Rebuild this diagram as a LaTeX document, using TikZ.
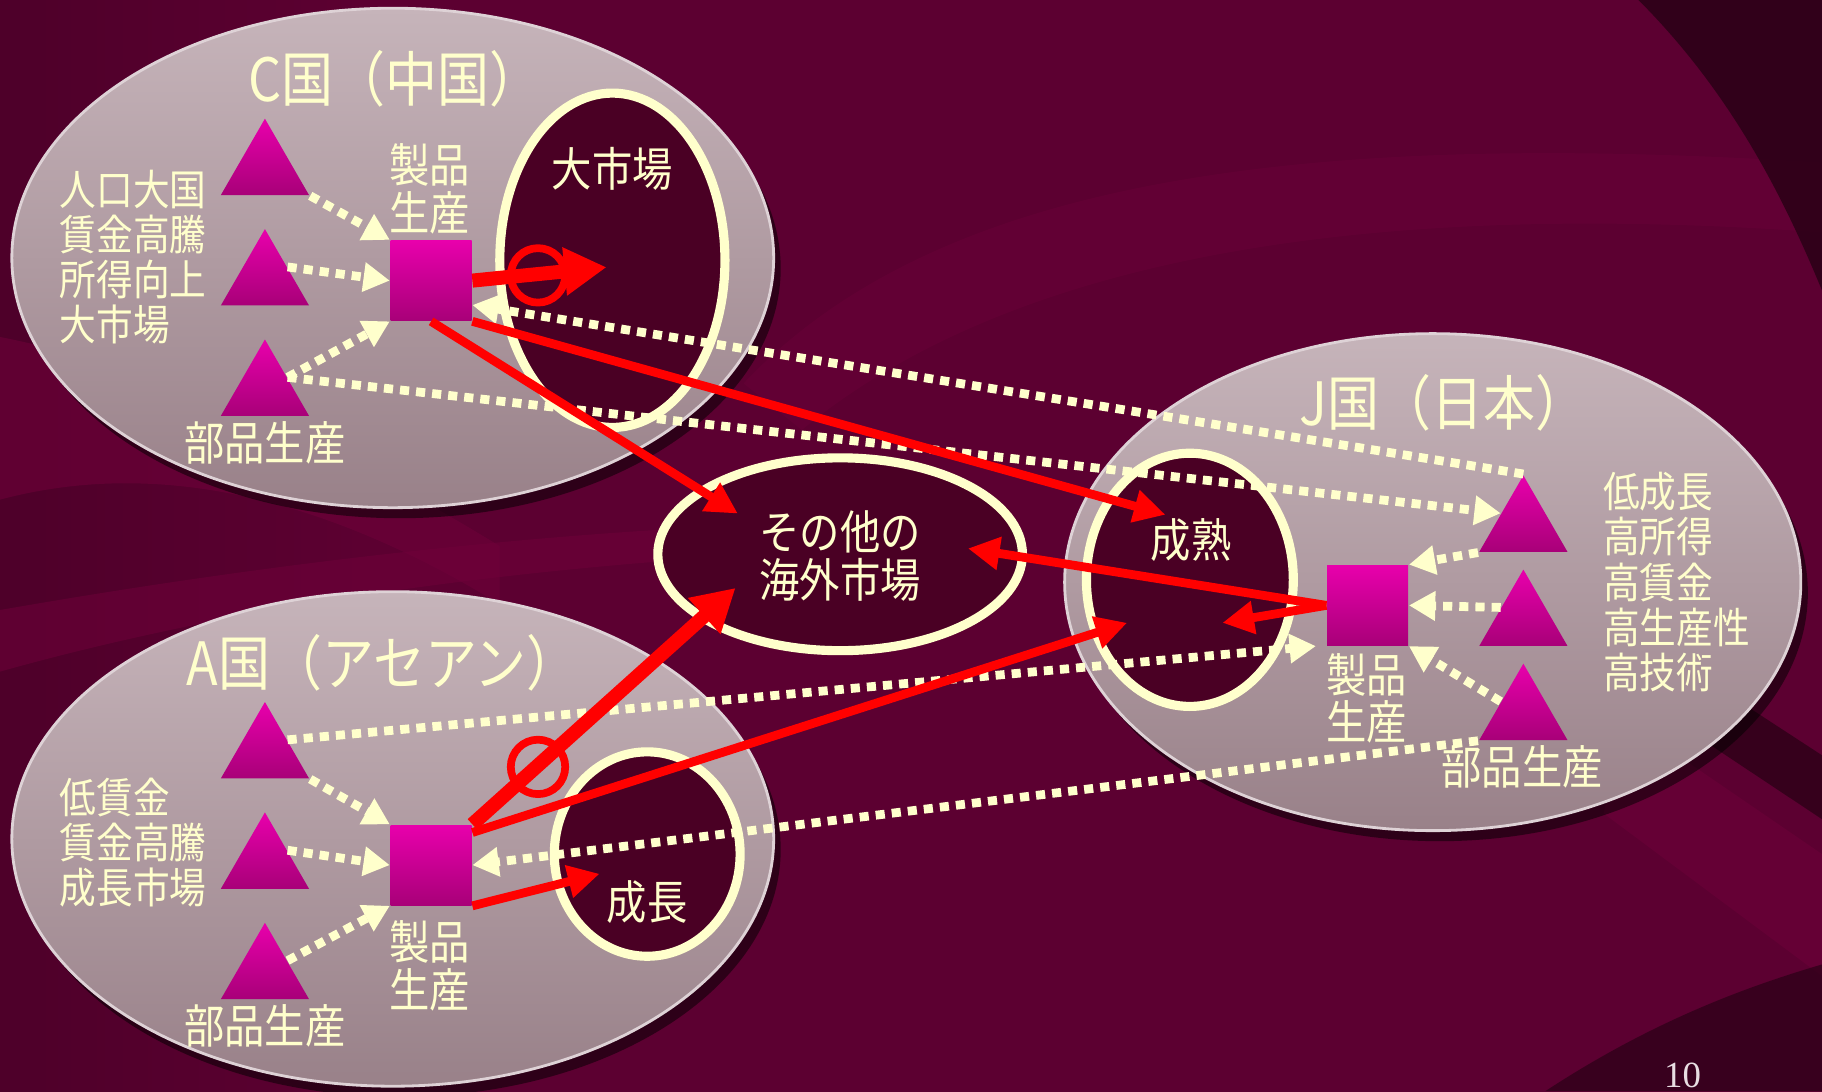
\documentclass[tikz,border=0pt]{standalone}
\usepackage{fontspec}
\setmainfont{Noto Sans CJK JP}[FakeStretch=0.87]
\newfontfamily\numfont{Liberation Serif}
\usetikzlibrary{arrows.meta,shapes.geometric,shadows,calc}
\definecolor{bgdark}{HTML}{2A0016}
\definecolor{bgmid}{HTML}{5C0031}
\definecolor{bglight}{HTML}{70003A}
\definecolor{cream}{HTML}{FFFFCC}
\definecolor{innerfill}{HTML}{4A0024}
\definecolor{ctop}{HTML}{C6B4BA}
\definecolor{cbot}{HTML}{998189}
\definecolor{rimc}{HTML}{DED2D6}
\definecolor{mtop}{HTML}{E800AC}
\definecolor{mbot}{HTML}{A80078}
\definecolor{redc}{HTML}{FF0000}
\definecolor{numc}{HTML}{E8DDE2}
\pgfdeclarehorizontalshading{bgsh}{100bp}{color(0bp)=(bgdark); color(35bp)=(bgmid); color(75bp)=(bgmid); color(100bp)=(bgmid!75!black)}
\tikzset{
  country/.style={ellipse, draw=rimc, line width=0.8pt, top color=ctop, bottom color=cbot, inner sep=0pt,
    drop shadow={shadow xshift=2pt, shadow yshift=-3pt, opacity=0.5, fill=black}},
  market/.style={ellipse, draw=cream, line width=2.6pt, fill=innerfill, inner sep=0pt},
  tri/.style={regular polygon, regular polygon sides=3, minimum size=29pt, inner sep=0pt, top color=mtop, bottom color=mbot},
  sq/.style={rectangle, minimum width=23.1pt, minimum height=22.8pt, inner sep=0pt, top color=mtop, bottom color=mbot},
  lab/.style={text=cream, inner sep=0pt, align=left, font=\fontsize{12}{12.85}\selectfont},
  clab/.style={text=cream, inner sep=0pt, align=center, font=\fontsize{13.2}{13.6}\selectfont},
  ttl/.style={text=cream, inner sep=0pt, font=\fontsize{17}{17}\selectfont},
  dotarr/.style={draw=cream, line width=2.5pt, dash pattern=on 2.6pt off 2pt, -{Triangle[length=7.5pt,width=8pt]}},
  redarr/.style={draw=redc, line width=2.5pt, -{Triangle[length=9pt,width=9pt]}},
  redthick/.style={draw=redc, line width=4pt, -{Triangle[length=12pt,width=13pt]}},
  okmark/.style={circle, draw=redc, line width=2.2pt, minimum size=15.5pt, inner sep=0pt},
}
\begin{document}
\begin{tikzpicture}[x=0.01162cm, y=-0.01162cm]
\useasboundingbox (0,0) rectangle (1568,939);
\begin{scope}
\clip (0,0) rectangle (1568,939);
% background
\shade[shading=bgsh] (0,0) rectangle (1568,939);
\fill[bglight, opacity=0.55] (0,290) .. controls (150,320) and (300,390) .. (430,470) -- (430,520) .. controls (300,440) and (150,390) .. (0,430) -- cycle;
\fill[bglight, opacity=0.5] (0,525) .. controls (200,490) and (420,462) .. (640,452) -- (640,478) .. controls (420,492) and (200,522) .. (0,578) -- cycle;
\fill[bglight, opacity=0.35] (640,330) .. controls (800,160) and (1100,110) .. (1568,140) -- (1568,200) .. controls (1150,170) and (860,230) .. (690,370) -- cycle;
\fill[bgdark, opacity=0.85] (1410,0) .. controls (1490,80) and (1535,170) .. (1568,250) -- (1568,0) -- cycle;
\fill[bgdark, opacity=0.75] (1430,560) -- (1568,650) -- (1568,705) -- (1410,600) -- cycle;
\fill[bglight, opacity=0.45] (1400,620) -- (1568,735) -- (1568,840) -- (1380,700) -- cycle;
\fill[bgdark, opacity=0.7] (1330,939) .. controls (1420,880) and (1500,850) .. (1568,830) -- (1568,939) -- cycle;

% country ellipses
\node[country, minimum width=216.9pt, minimum height=142.2pt] (cnC) at (338,222) {};
\node[country, minimum width=209.6pt, minimum height=141.5pt] (cnJ) at (1233,501) {};
\node[country, minimum width=216.9pt, minimum height=140.8pt] (cnA) at (338,722) {};

% market ellipses
\node[market, minimum width=64.1pt, minimum height=95.2pt] (mkC) at (527,224) {};
\node[market, minimum width=103.8pt, minimum height=54.9pt] (mkO) at (723,477) {};
\node[market, minimum width=58.9pt, minimum height=72.1pt] (mkJ) at (1024,499) {};
\node[market, minimum width=52.9pt, minimum height=58.2pt] (mkA) at (557,735) {};

% triangles and squares
\node[tri] (tC1) at (228,146) {};
\node[tri] (tC2) at (228,241) {};
\node[tri] (tC3) at (228,336) {};
\node[sq] (sqC) at (371,241.5) {};
\node[tri] (tA1) at (228,648) {};
\node[tri] (tA2) at (228,743) {};
\node[tri] (tA3) at (228,838) {};
\node[sq] (sqA) at (371,744.5) {};
\node[tri] (tJ1) at (1311,453) {};
\node[tri] (tJ2) at (1311,534) {};
\node[tri] (tJ3) at (1311,615) {};
\node[sq] (sqJ) at (1177,521) {};

% titles
\node[ttl, anchor=west] (ttC) at (213,68) {C国（中国）};
\node[ttl, anchor=west] (ttA) at (160,570) {A国（アセアン）};
\node[ttl, anchor=west] (ttJ) at (1118,347) {J国（日本）};

% labels
\node[lab, anchor=west] (lsC) at (51,221.5) {人口大国\\賃金高騰\\所得向上\\大市場};
\node[lab, anchor=west] (lsA) at (51,725) {低賃金\\賃金高騰\\成長市場};
\node[lab, anchor=west] (lsJ) at (1379,501) {低成長\\高所得\\高賃金\\高生産性\\高技術};
\node[clab] (pC) at (370,162.5) {製品\\生産};
\node[clab] (pA) at (370,831.5) {製品\\生産};
\node[clab] (pJ) at (1176,601) {製品\\生産};
\node[clab] (bC) at (228,381) {部品生産};
\node[clab] (bA) at (228,883) {部品生産};
\node[clab] (bJ) at (1310,660) {部品生産};
\node[clab] (lmC) at (527,145) {大市場};
\node[clab] (lmO) at (723,478.5) {その他の\\海外市場};
\node[clab] (lmJ) at (1025,465) {成熟};
\node[clab] (lmA) at (557,776) {成長};

% cream dotted arrows
\draw[dotarr] (tC1.corner 3) -- (sqC.north west);
\draw[dotarr] (tC2.30) -- (sqC.west);
\draw[dotarr] (tC3.30) -- (sqC.south west);
\draw[dotarr] (tA1.corner 3) -- (sqA.north west);
\draw[dotarr] (tA2.30) -- (sqA.west);
\draw[dotarr] (tA3.30) -- (sqA.south west);
\draw[dotarr] (tJ1.corner 2) -- (sqJ.north east);
\draw[dotarr] (tJ2.150) -- (sqJ.east);
\draw[dotarr] (tJ3.150) -- (sqJ.south east);
\draw[dotarr] (tJ1.corner 1) -- ($(sqC.south east)!0.2!(sqC.north east)$);
\draw[dotarr] (tC3.30) -- (tJ1.150);
\draw[dotarr] (tA1.30) -- ($(sqJ.south west)+(-9,0)$);
\draw[dotarr] (tJ3.corner 2) -- (sqA.east);

% red arrows
\draw[redthick] (sqC.east) -- ($(mkC.center)+(-5,6)$);
\draw[redarr] (sqC.south) -- ($(mkO.center)+(-88,-35)$);
\draw[redarr] (sqC.south east) -- ($(mkJ.center)+(-21,-56)$);
\draw[redarr] (sqJ.west) -- ($(mkO.center)+(110,-5)$);
\draw[redarr] (sqJ.west) -- ($(mkJ.center)+(28,37)$);
\draw[redthick] (sqA.north east) -- ($(mkO.center)+(-90,29)$);
\draw[redarr] ($(sqA.north east)!0.1!(sqA.south east)$) -- ($(mkJ.center)+(-54,37)$);
\draw[redarr] (sqA.south east) -- ($(mkA.center)+(-41,17)$);
\node[okmark] (okC) at (463,237) {};
\node[okmark] (okA) at (463,660) {};

% page number
\node[text=numc, inner sep=0pt, anchor=south, font=\numfont\fontsize{10.5}{10.5}\selectfont] (pg) at (1448,937) {10};
\end{scope}
\end{tikzpicture}
\end{document}
